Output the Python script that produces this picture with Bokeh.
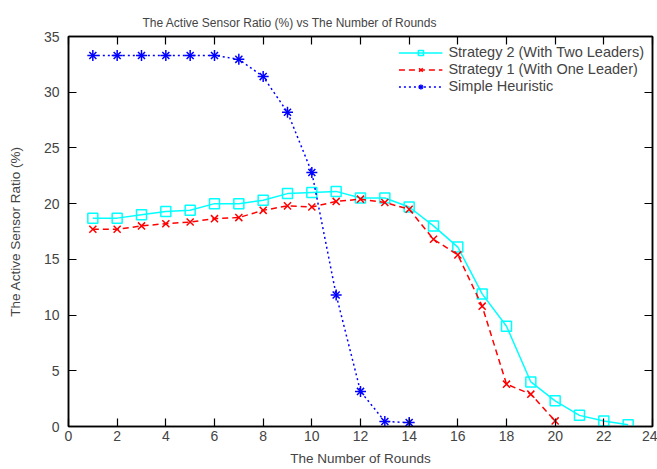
from bokeh.plotting import figure
from bokeh.models import LinearAxis, Range1d, FixedTicker, Legend, LegendItem
from bokeh.embed import file_html
from bokeh.resources import INLINE

rounds_s2 = list(range(1, 24))
strategy2 = [18.7, 18.7, 19.0, 19.3, 19.4, 20.0, 20.0, 20.3, 20.9, 21.0, 21.1,
             20.5, 20.5, 19.7, 18.0, 16.1, 11.9, 9.0, 4.0, 2.3, 1.0, 0.5, 0.15]
rounds_s1 = list(range(1, 21))
strategy1 = [17.7, 17.7, 18.0, 18.2, 18.35, 18.65, 18.75, 19.4, 19.8, 19.7, 20.2,
             20.4, 20.1, 19.5, 16.8, 15.4, 10.8, 3.8, 2.9, 0.5]
rounds_h = list(range(1, 15))
heuristic = [33.3, 33.3, 33.3, 33.3, 33.3, 33.3, 32.95, 31.4, 28.2, 22.8, 11.8,
             3.15, 0.45, 0.35]

x_ticks = list(range(0, 25, 2))
y_ticks = list(range(0, 36, 5))

FONT = "Liberation Sans"

p = figure(width=657, height=469, output_backend="svg", toolbar_location=None,
           x_range=Range1d(0, 24), y_range=Range1d(0, 35),
           title="The Active Sensor Ratio (%) vs The Number of Rounds",
           min_border_left=68, min_border_right=5, min_border_top=36, min_border_bottom=43)
p.title.align = "left"
p.title.offset = 74
p.title.standoff = 14
p.title.text_font = FONT
p.title.text_font_size = "12px"
p.title.text_font_style = "normal"
p.xgrid.visible = False
p.ygrid.visible = False
p.outline_line_color = "black"
p.outline_line_width = 1.5

for ax in p.xaxis:
    ax.ticker = FixedTicker(ticks=x_ticks)
    ax.axis_label = "The Number of Rounds"
    ax.major_label_standoff = 4
    ax.axis_label_standoff = 7
for ax in p.yaxis:
    ax.ticker = FixedTicker(ticks=y_ticks)
    ax.axis_label = "The Active Sensor Ratio (%)"
    ax.major_label_standoff = 9
    ax.axis_label_standoff = 18

for ax in list(p.xaxis) + list(p.yaxis):
    ax.major_tick_in = 8
    ax.major_tick_out = 0
    ax.minor_tick_in = 0
    ax.minor_tick_out = 0
    ax.axis_line_color = "black"
    ax.axis_line_width = 1.5
    ax.major_tick_line_width = 1.2
    ax.major_label_text_font = FONT
    ax.major_label_text_font_size = "14px"
    ax.axis_label_text_font = FONT
    ax.axis_label_text_font_size = "13.5px"
    ax.axis_label_text_font_style = "normal"

blank_x = {t: "" for t in x_ticks}
blank_y = {t: "" for t in y_ticks}
top = LinearAxis(ticker=FixedTicker(ticks=x_ticks), major_label_overrides=blank_x,
                 major_tick_in=8, major_tick_out=0, minor_tick_in=0, minor_tick_out=0,
                 major_label_standoff=0, axis_line_width=1.5, major_tick_line_width=1.2)
right = LinearAxis(ticker=FixedTicker(ticks=y_ticks), major_label_overrides=blank_y,
                   major_tick_in=8, major_tick_out=0, minor_tick_in=0, minor_tick_out=0,
                   major_label_standoff=0, axis_line_width=1.5, major_tick_line_width=1.2)
p.add_layout(top, "above")
p.add_layout(right, "right")

l2 = p.line(rounds_s2, strategy2, line_color="#00ffff", line_width=1.5)
m2 = p.scatter(rounds_s2, strategy2, marker="square", size=10, fill_color=None,
               line_color="#00ffff", line_width=1.5)
l1 = p.line(rounds_s1, strategy1, line_color="#ff0000", line_width=1.5, line_dash="6 4")
m1 = p.scatter(rounds_s1, strategy1, marker="x", size=10, line_color="#ff0000", line_width=1.5)
lh = p.line(rounds_h, heuristic, line_color="#0000ff", line_width=1.5, line_dash="2 3")
mh1 = p.scatter(rounds_h, heuristic, marker="cross", size=11, line_color="#0000ff", line_width=1.5)
mh2 = p.scatter(rounds_h, heuristic, marker="x", size=10, line_color="#0000ff", line_width=1.5)

legend = Legend(items=[
    LegendItem(label="Strategy 2 (With Two Leaders)", renderers=[l2, m2]),
    LegendItem(label="Strategy 1 (With One Leader)", renderers=[l1, m1]),
    LegendItem(label="Simple Heuristic", renderers=[lh, mh1, mh2]),
], location="top_right")
legend.background_fill_alpha = 0
legend.border_line_color = None
legend.label_text_font = FONT
legend.label_text_font_size = "14.5px"
legend.label_height = 13
legend.glyph_height = 13
legend.glyph_width = 44
legend.spacing = 1
legend.padding = 3
legend.margin = 8
legend.label_standoff = 6
p.add_layout(legend)

open("out.html", "w").write(file_html(p, INLINE))
